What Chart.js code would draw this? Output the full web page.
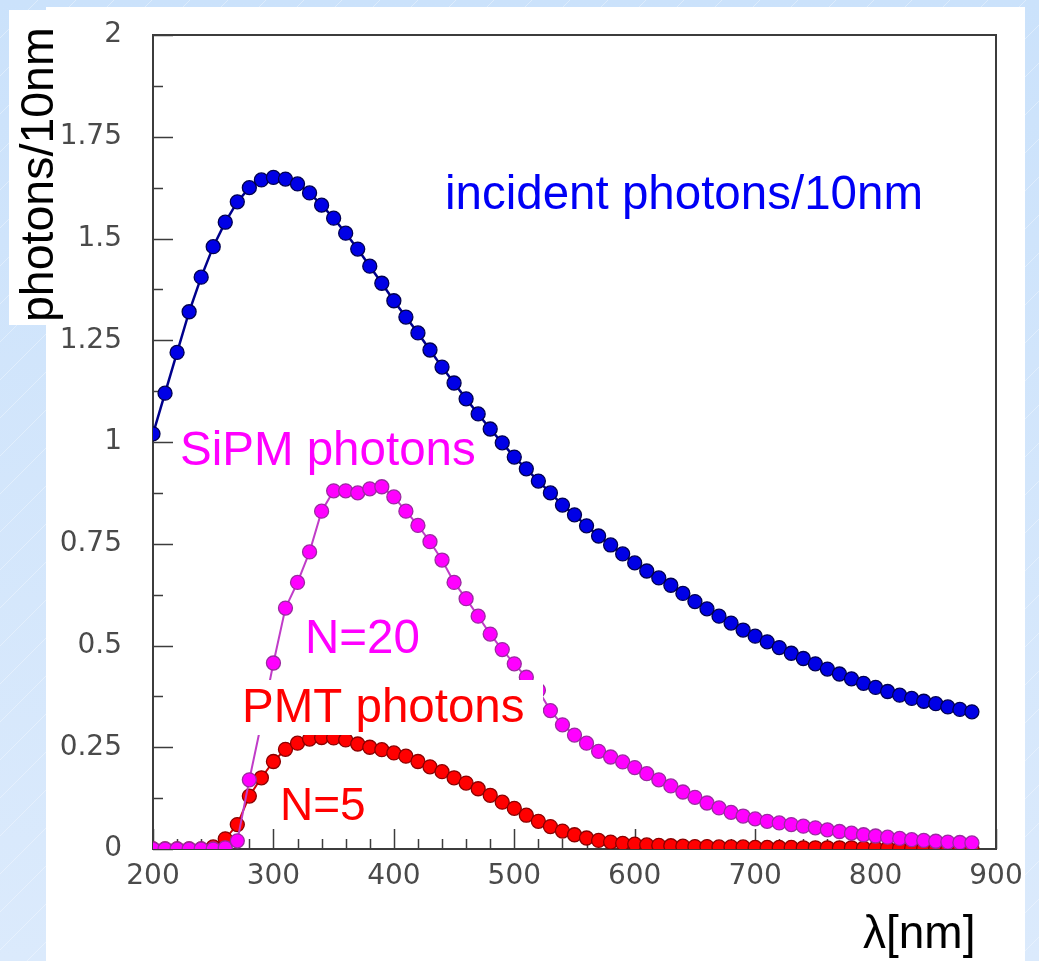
<!DOCTYPE html>
<html>
<head>
<meta charset="utf-8">
<script src="https://cdn.jsdelivr.net/npm/chart.js@4.4.1/dist/chart.umd.min.js"></script>
<style>
  html, body { margin: 0; padding: 0; background: #d3e7fb; overflow: hidden; }
  #wrap { position: relative; width: 1039px; height: 961px; }
</style>
</head>
<body>
<div id="wrap"><canvas id="spectrum" width="1039" height="961"></canvas></div>
<script>
// wavelength bins, nm
const wavelengths = [
  200, 210, 220, 230, 240, 250, 260, 270, 280, 290,
  300, 310, 320, 330, 340, 350, 360, 370, 380, 390,
  400, 410, 420, 430, 440, 450, 460, 470, 480, 490,
  500, 510, 520, 530, 540, 550, 560, 570, 580, 590,
  600, 610, 620, 630, 640, 650, 660, 670, 680, 690,
  700, 710, 720, 730, 740, 750, 760, 770, 780, 790,
  800, 810, 820, 830, 840, 850, 860, 870, 880
];

// photons / 10nm
const incident = [
  1.02, 1.12, 1.22, 1.32, 1.405, 1.48, 1.54, 1.59, 1.625, 1.644,
  1.65, 1.646, 1.634, 1.612, 1.582, 1.55, 1.513, 1.474, 1.432, 1.39,
  1.347, 1.307, 1.268, 1.226, 1.184, 1.145, 1.106, 1.069, 1.032, 0.998,
  0.963, 0.934, 0.904, 0.875, 0.845, 0.821, 0.794, 0.769, 0.747, 0.725,
  0.703, 0.683, 0.666, 0.648, 0.628, 0.608, 0.59, 0.572, 0.555, 0.538,
  0.523, 0.509, 0.495, 0.481, 0.468, 0.455, 0.442, 0.43, 0.418, 0.407,
  0.397, 0.387, 0.378, 0.37, 0.363, 0.357, 0.349, 0.343, 0.337
];

const sipm = [
  0, 0, 0, 0, 0, 0, 0.003, 0.02, 0.17, 0.31,
  0.457, 0.592, 0.655, 0.73, 0.83, 0.88, 0.88, 0.875, 0.885, 0.89,
  0.865, 0.83, 0.795, 0.755, 0.71, 0.655, 0.615, 0.572, 0.528, 0.49,
  0.455, 0.422, 0.39, 0.34, 0.305, 0.28, 0.26, 0.24, 0.226, 0.214,
  0.2, 0.185, 0.17, 0.155, 0.14, 0.127, 0.113, 0.101, 0.09, 0.081,
  0.074, 0.068, 0.064, 0.06, 0.056, 0.052, 0.047, 0.043, 0.039, 0.035,
  0.032, 0.029, 0.026, 0.023, 0.021, 0.019, 0.017, 0.016, 0.015
];

const pmt = [
  0, 0, 0, 0, 0, 0.005, 0.025, 0.06, 0.13, 0.175,
  0.215, 0.245, 0.26, 0.27, 0.274, 0.273, 0.268, 0.258, 0.25, 0.244,
  0.236, 0.228, 0.215, 0.202, 0.19, 0.175, 0.162, 0.148, 0.132, 0.115,
  0.1, 0.083, 0.068, 0.055, 0.044, 0.035, 0.027, 0.021, 0.017, 0.014,
  0.012, 0.01, 0.009, 0.008, 0.007, 0.006, 0.006, 0.005, 0.005, 0.005,
  0.004, 0.004, 0.004, 0.004, 0.003, 0.003, 0.003, 0.003, 0.003, 0.002,
  0.002, 0.002, 0.002, 0.002, 0.002, 0.002, 0.002, 0.002, 0.002
];

const toPoints = (ys) => ys.map((y, i) => ({ x: wavelengths[i], y: y }));

// background, white panel and the boxed y title
const backdrop = {
  id: "backdrop",
  beforeDraw(chart) {
    const ctx = chart.ctx;
    ctx.save();
    const g = ctx.createLinearGradient(0, 0, 0, 961);
    g.addColorStop(0, "#cbe2fb");
    g.addColorStop(1, "#dbeafc");
    ctx.fillStyle = g;
    ctx.fillRect(0, 0, 1039, 961);
    ctx.strokeStyle = "rgba(255,255,255,0.35)";
    ctx.lineWidth = 1;
    for (let k = -961; k < 1039; k += 38) {
      ctx.beginPath();
      ctx.moveTo(k, 961);
      ctx.lineTo(k + 961, 0);
      ctx.stroke();
    }
    ctx.fillStyle = "#ffffff";
    ctx.fillRect(46, 7, 979, 954);
    ctx.fillRect(9, 10, 40, 315);
    ctx.restore();
  }
};

// ROOT style frame with inward ticks
const frame = {
  id: "frame",
  beforeDatasetsDraw(chart) {
    const { ctx, chartArea: a, scales } = chart;
    const x = scales.x, y = scales.y;
    ctx.save();
    ctx.strokeStyle = "#3c3c3c";
    ctx.lineWidth = 2;
    ctx.strokeRect(a.left, a.top, a.right - a.left, a.bottom - a.top);
    ctx.lineWidth = 1.5;
    ctx.beginPath();
    for (let v = 0; v <= 2.0001; v += 0.125) {
      const py = Math.round(y.getPixelForValue(v)) + 0.5;
      const len = Math.abs((v / 0.25) - Math.round(v / 0.25)) < 1e-6 ? 20 : 10;
      ctx.moveTo(a.left, py);
      ctx.lineTo(a.left + len, py);
    }
    for (let v = 200; v <= 900; v += 20) {
      const px = Math.round(x.getPixelForValue(v)) + 0.5;
      const len = (v - 200) % 100 === 0 ? 20 : 10;
      ctx.moveTo(px, a.bottom);
      ctx.lineTo(px, a.bottom - len);
    }
    ctx.stroke();
    ctx.restore();
  }
};

// text labels written on the plot
const notes = {
  id: "notes",
  afterDatasetsDraw(chart) {
    const ctx = chart.ctx;
    ctx.save();
    ctx.textBaseline = "alphabetic";
    ctx.textAlign = "left";

    ctx.fillStyle = "#ffffff";
    ctx.fillRect(235, 680, 308, 55);

    ctx.font = "47.5px 'Liberation Sans', Arial, sans-serif";
    ctx.fillStyle = "#0000f5";
    ctx.fillText("incident photons/10nm", 445, 209);

    ctx.fillStyle = "#ff00ff";
    ctx.fillText("SiPM photons", 180, 465);
    ctx.fillText("N=20", 305, 653);

    ctx.fillStyle = "#ff0000";
    ctx.fillText("PMT photons", 242, 722);
    ctx.font = "46px 'Liberation Sans', Arial, sans-serif";
    ctx.fillText("N=5", 280, 820);

    ctx.fillStyle = "#000000";
    ctx.fillText("\u03bb[nm]", 863, 948);

    ctx.translate(53, 322);
    ctx.rotate(-Math.PI / 2);
    ctx.font = "46.5px 'Liberation Sans', Arial, sans-serif";
    ctx.fillText("photons/10nm", 0, 0);
    ctx.restore();
  }
};

const tickFont = { family: "'DejaVu Sans', sans-serif", size: 28 };

new Chart(document.getElementById("spectrum").getContext("2d"), {
  type: "line",
  data: {
    datasets: [
      {
        label: "incident photons/10nm",
        data: toPoints(incident),
        borderColor: "#00008c",
        borderWidth: 2.5,
        backgroundColor: "#0000e6",
        pointBorderColor: "#000050",
        pointBorderWidth: 1.3,
        pointRadius: 7,
        tension: 0
      },
      {
        label: "SiPM photons",
        data: toPoints(sipm),
        borderColor: "#c03cc8",
        borderWidth: 2,
        backgroundColor: "#ff00ff",
        pointBorderColor: "#9a2aa0",
        pointBorderWidth: 1.3,
        pointRadius: 7,
        tension: 0
      },
      {
        label: "PMT photons",
        data: toPoints(pmt),
        borderColor: "#d00000",
        borderWidth: 2,
        backgroundColor: "#ff0000",
        pointBorderColor: "#8a0000",
        pointBorderWidth: 1.3,
        pointRadius: 7,
        tension: 0
      }
    ]
  },
  options: {
    responsive: false,
    animation: false,
    devicePixelRatio: 1,
    layout: { padding: { left: 0, top: 35, right: 43, bottom: 52 } },
    plugins: {
      legend: { display: false },
      tooltip: { enabled: false }
    },
    scales: {
      x: {
        type: "linear",
        min: 200,
        max: 900,
        grid: { display: false, drawTicks: false },
        border: { display: false },
        ticks: { stepSize: 100, color: "#4a4a4a", font: tickFont, padding: 11, maxRotation: 0 },
        afterFit(scale) {
          scale.height = 60;
          scale.paddingLeft = 0;
          scale.paddingRight = 0;
        }
      },
      y: {
        min: 0,
        max: 2,
        grid: { display: false, drawTicks: false },
        border: { display: false },
        ticks: {
          stepSize: 0.25,
          color: "#4a4a4a",
          font: tickFont,
          padding: 31,
          callback: (v) => String(Number(v.toFixed(2)))
        },
        afterFit(scale) {
          scale.width = 153;
          scale.paddingTop = 0;
          scale.paddingBottom = 0;
        }
      }
    }
  },
  plugins: [backdrop, frame, notes]
});
</script>
</body>
</html>
